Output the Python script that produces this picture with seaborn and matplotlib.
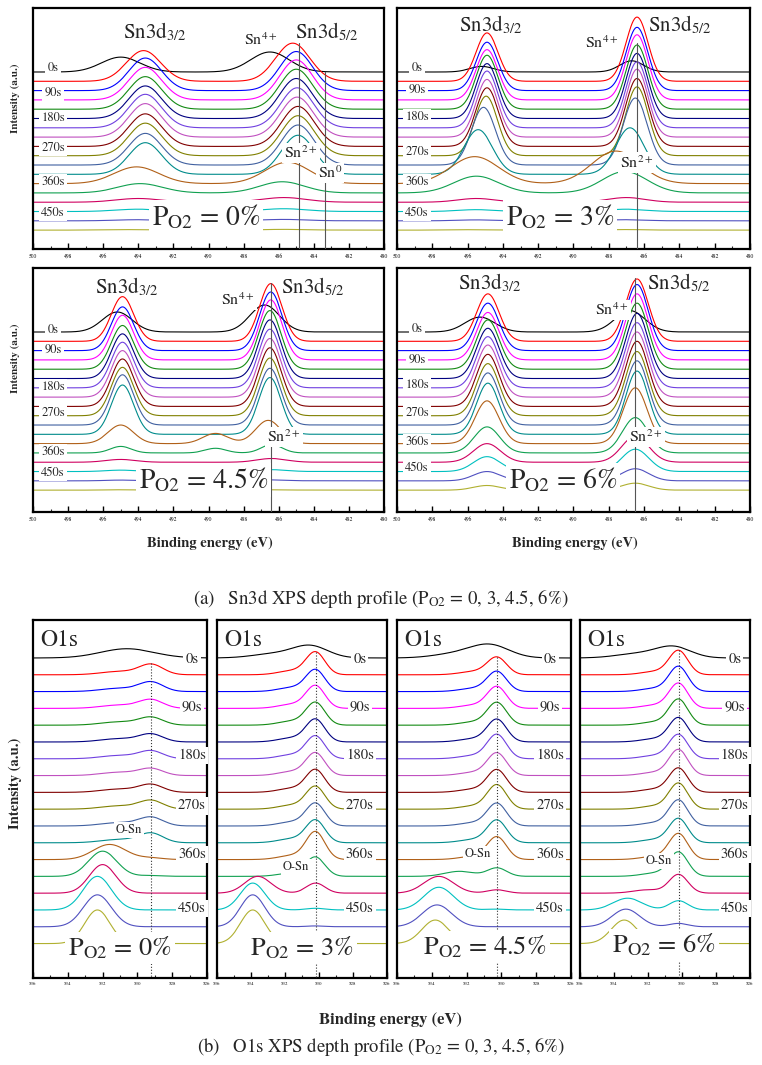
import numpy as np
import pandas as pd
import matplotlib
matplotlib.use('Agg')
import matplotlib.pyplot as plt
from matplotlib.ticker import MultipleLocator
import seaborn as sns

# ---------------- Dados ----------------
DEPTH_LABELS = ['0s', '90s', '180s', '270s', '360s', '450s']
CURVE_COLORS = ['#000000', '#ff0000', '#0000ff', '#ff00ff', '#138a13', '#000080',
                '#7040e0', '#c050c0', '#800000', '#808000', '#4060a0', '#008b8b',
                '#b06018', '#10a050', '#d00060', '#00c0c0', '#5050c0', '#b0b030']

# Sn3d, PO2 = 0%
SN0_POS32 = [495.0, 493.7, 493.6, 493.6, 493.6, 493.6, 493.6, 493.6, 493.6, 493.6, 493.6, 493.6, 494.1, 493.9, 494.0, 494.0, 494.0, 494.0]
SN0_H32 = [1.6, 3.3, 3.5, 3.5, 3.5, 3.5, 3.6, 3.6, 3.5, 3.5, 3.4, 3.4, 1.8, 1.0, 0.4, 0.25, 0.12, 0.06]
SN0_POS52 = [486.5, 485.2, 485.0, 485.0, 485.0, 485.0, 484.95, 484.95, 484.9, 484.9, 484.9, 484.9, 485.5, 485.8, 485.7, 485.7, 485.7, 485.7]
SN0_H52 = [2.15, 4.1, 4.2, 4.3, 4.3, 4.3, 4.3, 4.3, 4.3, 4.3, 4.3, 4.2, 2.3, 1.2, 0.5, 0.3, 0.15, 0.08]
SN0_FWHM = [2.6, 2.3, 2.2, 2.2, 2.2, 2.2, 2.2, 2.2, 2.2, 2.2, 2.2, 2.2, 3.0, 3.0, 3.0, 3.0, 3.0, 3.0]
SN0_SAT_POS = [490.0] * 18
SN0_SAT_H = [0.0] * 18

# Sn3d, PO2 = 3%
SN3_POS32 = [495.2, 494.9, 494.9, 494.9, 494.9, 494.9, 494.9, 494.9, 494.9, 494.95, 495.1, 495.4, 495.6, 495.5, 495.5, 495.5, 495.5, 495.5]
SN3_H32 = [0.6, 5.2, 5.2, 5.4, 5.8, 5.9, 6.1, 6.2, 6.3, 6.4, 6.2, 4.8, 2.9, 1.8, 0.4, 0.2, 0.1, 0.05]
SN3_POS52 = [486.7, 486.4, 486.4, 486.4, 486.4, 486.4, 486.4, 486.4, 486.4, 486.4, 486.5, 486.8, 487.6, 487.1, 487.0, 487.0, 487.0, 487.0]
SN3_H52 = [1.2, 6.9, 6.8, 7.0, 6.9, 7.0, 7.1, 7.3, 7.3, 7.4, 7.2, 5.0, 3.5, 2.3, 0.5, 0.25, 0.12, 0.06]
SN3_FWHM = [1.6, 1.45, 1.45, 1.45, 1.45, 1.45, 1.45, 1.45, 1.5, 1.5, 1.6, 1.9, 3.2, 3.0, 2.5, 2.5, 2.5, 2.5]
SN3_SAT_POS = [490.0] * 18
SN3_SAT_H = [0.0] * 18

# Sn3d, PO2 = 4.5%
SN45_POS32 = [495.2, 494.9, 494.9, 494.9, 494.9, 494.9, 494.9, 494.9, 494.9, 494.9, 494.9, 494.9, 495.0, 495.0, 495.0, 495.0, 495.0, 495.0]
SN45_H32 = [2.15, 4.8, 4.7, 4.8, 4.7, 4.8, 4.9, 5.0, 5.1, 5.2, 5.4, 5.3, 2.0, 0.7, 0.3, 0.15, 0.08, 0.04]
SN45_POS52 = [486.8, 486.45, 486.45, 486.45, 486.5, 486.5, 486.5, 486.5, 486.5, 486.5, 486.5, 486.5, 486.6, 486.4, 486.4, 486.4, 486.4, 486.4]
SN45_H52 = [2.9, 6.2, 6.3, 6.45, 6.3, 6.3, 6.3, 6.3, 6.3, 6.2, 6.1, 6.1, 2.5, 0.9, 0.4, 0.2, 0.1, 0.05]
SN45_FWHM = [2.0, 1.5, 1.5, 1.5, 1.5, 1.5, 1.5, 1.5, 1.5, 1.5, 1.5, 1.5, 1.7, 1.4, 2.0, 2.0, 2.0, 2.0]
SN45_SAT_POS = [489.6] * 18
SN45_SAT_H = [0, 0, 0, 0, 0, 0, 0, 0, 0, 0, 0, 0, 1.1, 0.5, 0, 0, 0, 0]

# Sn3d, PO2 = 6%
SN6_POS32 = [495.3, 494.85, 494.85, 494.85, 494.85, 494.85, 494.85, 494.85, 494.85, 494.85, 494.85, 494.85, 494.9, 494.9, 494.9, 494.9, 494.9, 494.9]
SN6_H32 = [1.6, 5.1, 5.1, 5.1, 5.3, 5.4, 5.5, 5.6, 5.6, 5.6, 5.6, 5.5, 4.6, 2.8, 2.0, 1.6, 1.0, 0.5]
SN6_POS52 = [486.8, 486.4, 486.4, 486.4, 486.4, 486.4, 486.4, 486.4, 486.4, 486.4, 486.4, 486.4, 486.5, 486.5, 486.5, 486.5, 486.5, 486.5]
SN6_H52 = [2.3, 6.7, 7.1, 7.1, 7.1, 7.0, 7.0, 7.0, 7.0, 6.9, 6.9, 6.8, 6.0, 3.8, 2.8, 2.4, 1.3, 0.75]
SN6_FWHM = [2.0, 1.5, 1.5, 1.5, 1.5, 1.5, 1.5, 1.5, 1.5, 1.5, 1.5, 1.5, 1.6, 1.7, 1.8, 1.8, 1.8, 1.8]
SN6_SAT_POS = [490.0] * 18
SN6_SAT_H = [0.0] * 18

# O1s: componente O-Sn (baixa energia) e componente de alta energia
O0_SN_POS = [530.6] + [529.2] * 17
O0_SN_H = [0.55, 0.6, 0.55, 0.5, 0.45, 0.45, 0.45, 0.4, 0.45, 0.5, 0.5, 0.55, 0.1, 0.05, 0, 0, 0, 0]
O0_SN_FWHM = [3.6] + [1.6] * 17
O0_HI_POS = [532.0, 531.0, 531.0, 531.0, 531.0, 531.0, 531.0, 531.0, 531.0, 531.0, 531.0, 531.0, 531.6, 532.0, 532.0, 532.3, 532.3, 532.3]
O0_HI_H = [0, 0.2, 0.2, 0.2, 0.2, 0.2, 0.2, 0.2, 0.2, 0.2, 0.2, 0.2, 0.9, 1.5, 1.7, 2.0, 1.9, 2.0]
O0_HI_FWHM = [2.5] * 12 + [2.2, 1.9, 1.8, 1.9, 1.9, 1.7]

O3_SN_POS = [530.5] + [530.2] * 17
O3_SN_H = [0.7, 1.3, 1.25, 1.3, 1.3, 1.3, 1.3, 1.3, 1.3, 1.3, 1.3, 1.3, 1.6, 1.1, 0.6, 0.1, 0.05, 0]
O3_SN_FWHM = [2.4] + [1.3] * 17
O3_HI_POS = [532.6, 531.5, 531.5, 531.5, 531.5, 531.5, 531.5, 531.5, 531.5, 531.5, 531.5, 531.5, 531.5, 531.5, 533.6, 533.9, 533.9, 533.9]
O3_HI_H = [0.25, 0.25, 0.25, 0.25, 0.25, 0.25, 0.25, 0.25, 0.25, 0.25, 0.25, 0.25, 0.25, 0.2, 1.0, 1.6, 1.9, 2.0]
O3_HI_FWHM = [3.0] + [2.0] * 13 + [1.8, 1.7, 1.7, 1.7]

O45_SN_POS = [530.65] + [530.25] * 17
O45_SN_H = [0.75, 1.0, 1.15, 1.25, 1.3, 1.3, 1.4, 1.3, 1.3, 1.4, 1.3, 1.3, 1.3, 0.5, 0.2, 0.05, 0, 0]
O45_SN_FWHM = [2.6] + [1.3] * 17
O45_HI_POS = [532.6] + [531.5] * 12 + [532.4, 533.6, 533.6, 533.7, 533.8]
O45_HI_H = [0.25] + [0.2] * 12 + [0.3, 1.0, 1.35, 1.3, 1.4]
O45_HI_FWHM = [3.0] + [2.0] * 12 + [2.0, 2.0, 2.0, 2.0, 1.8]

O6_SN_POS = [530.5] + [530.2] * 17
O6_SN_H = [0.65, 1.4, 1.45, 1.45, 1.5, 1.4, 1.4, 1.5, 1.4, 1.5, 1.5, 1.4, 1.5, 1.4, 1.1, 0.55, 0.2, 0.05]
O6_SN_FWHM = [2.4] + [1.3] * 17
O6_HI_POS = [532.6] + [531.5] * 13 + [532.0, 533.2, 533.3, 533.4]
O6_HI_H = [0.25] + [0.2] * 13 + [0.2, 0.7, 1.05, 1.4]
O6_HI_FWHM = [3.0] + [2.0] * 13 + [2.0, 2.0, 1.9, 1.8]

# ---------------- Estilo ----------------
sns.set_theme(style='white')
plt.rcParams['font.family'] = ['STIXGeneral', 'DejaVu Serif']
plt.rcParams['mathtext.fontset'] = 'stix'

BOX = dict(facecolor='white', edgecolor='none', pad=1.5)


def gauss(e, pos, h, fwhm):
    return h * np.exp(-4 * np.log(2) * (e - pos) ** 2 / fwhm ** 2)


def montar_frame(energia, componentes):
    linhas = []
    for i in range(18):
        y = -float(i) * np.ones_like(energia)
        for pos, h, fw in componentes:
            y = y + gauss(energia, pos[i], h[i], fw[i])
        linhas.append(pd.DataFrame({'energia': energia, 'intensidade': y, 'curva': f'c{i:02d}'}))
    return pd.concat(linhas, ignore_index=True)


PALETA = {f'c{i:02d}': c for i, c in enumerate(CURVE_COLORS)}
ORDEM = [f'c{i:02d}' for i in range(18)]


def eixo(fig, px):
    x0, y0, x1, y1 = px
    return fig.add_axes([x0 / 762, 1 - y1 / 1065, (x1 - x0) / 762, (y1 - y0) / 1065])


def estilo_eixo(ax, xlim, ylim, labelsize):
    ax.set_xlim(*xlim)
    ax.set_ylim(*ylim)
    ax.set_yticks([])
    ax.set_xlabel('')
    ax.set_ylabel('')
    lo, hi = min(xlim), max(xlim)
    ax.set_xticks(np.arange(lo, hi + 1, 2))
    ax.xaxis.set_minor_locator(MultipleLocator(1))
    ax.tick_params(axis='x', which='major', direction='in', length=4, width=1,
                   labelsize=labelsize, pad=3, bottom=True, colors='black')
    ax.tick_params(axis='x', which='minor', direction='in', length=2, width=0.8, bottom=True)
    for s in ax.spines.values():
        s.set_linewidth(1.6)
        s.set_color('black')


fig = plt.figure(figsize=(7.62, 10.65), dpi=100)

# ---------------- Sn3d ----------------
E_SN = np.linspace(480, 500, 600)
sn_paineis = [
    dict(px=(33, 8, 384, 249),
         comp=[(SN0_POS32, SN0_H32, SN0_FWHM), (SN0_POS52, SN0_H52, SN0_FWHM), (SN0_SAT_POS, SN0_SAT_H, SN0_FWHM)],
         t32=(493.05, 4.3), t52=(483.25, 4.3), t4=(487.0, 3.44), t2=(484.73, -8.7),
         p=(490.14, -15.6), ptxt='0%', lines=[(484.84, 3.1), (483.36, 0.0)],
         dy=[0.43, -2.26, -4.95, -8.17, -11.8, -15.2]),
    dict(px=(397, 8, 750, 249),
         comp=[(SN3_POS32, SN3_H32, SN3_FWHM), (SN3_POS52, SN3_H52, SN3_FWHM), (SN3_SAT_POS, SN3_SAT_H, SN3_FWHM)],
         t32=(494.67, 5.05), t52=(484.0, 5.05), t4=(488.4, 3.2), t2=(486.4, -9.7),
         p=(490.76, -15.6), ptxt='3%', lines=[(486.4, 3.1)],
         dy=[0.43, -1.9, -4.84, -8.6, -11.8, -15.2]),
    dict(px=(33, 268, 384, 512),
         comp=[(SN45_POS32, SN45_H32, SN45_FWHM), (SN45_POS52, SN45_H52, SN45_FWHM), (SN45_SAT_POS, SN45_SAT_H, SN45_FWHM)],
         t32=(494.64, 4.84), t52=(484.05, 4.84), t4=(488.32, 3.44), t2=(485.7, -11.3),
         p=(490.26, -15.9), ptxt='4.5%', lines=[(486.44, 5.27)],
         dy=[0.2, -1.9, -5.9, -8.7, -12.9, -15.2]),
    dict(px=(397, 268, 750, 512),
         comp=[(SN6_POS32, SN6_H32, SN6_FWHM), (SN6_POS52, SN6_H52, SN6_FWHM), (SN6_SAT_POS, SN6_SAT_H, SN6_FWHM)],
         t32=(494.73, 5.27), t52=(484.02, 5.27), t4=(487.82, 2.37), t2=(485.9, -11.3),
         p=(490.6, -15.9), ptxt='6%', lines=[(486.5, 5.8)],
         dy=[0.3, -3.0, -5.7, -8.7, -11.8, -14.6]),
]

for k, pn in enumerate(sn_paineis):
    ax = eixo(fig, pn['px'])
    df = montar_frame(E_SN, pn['comp'])
    sns.lineplot(data=df, x='energia', y='intensidade', hue='curva', hue_order=ORDEM,
                 palette=PALETA, estimator=None, legend=False, linewidth=0.8, ax=ax)
    ylim = (-19.03, 6.88) if k < 2 else (-19.35, 6.88)
    estilo_eixo(ax, (500, 480), ylim, 4)
    for xl, ytop in pn['lines']:
        ax.plot([xl, xl], [ytop, ylim[0]], color='#555555', lw=0.8, zorder=3)
    ax.text(*pn['t32'], 'Sn3d$_{3/2}$', fontsize=15, ha='center', va='center', zorder=6)
    ax.text(*pn['t52'], 'Sn3d$_{5/2}$', fontsize=15, ha='center', va='center', zorder=6)
    ax.text(*pn['t4'], 'Sn$^{4+}$', fontsize=11.5, ha='center', va='center', zorder=6, bbox=BOX)
    ax.text(*pn['t2'], 'Sn$^{2+}$', fontsize=11.5, ha='center', va='center', zorder=6, bbox=BOX)
    if k == 0:
        ax.text(483.08, -10.86, 'Sn$^{0}$', fontsize=11.5, ha='center', va='center', zorder=6, bbox=BOX)
    ax.text(*pn['p'], 'P$_{\\mathrm{O2}}$ = ' + pn['ptxt'], fontsize=20, ha='center', va='center',
            zorder=6, bbox=dict(facecolor='white', edgecolor='none', pad=2))
    for lab, yy in zip(DEPTH_LABELS, pn['dy']):
        ax.text(498.86, yy, lab, fontsize=9, ha='center', va='center', zorder=6, bbox=BOX)

# ---------------- O1s ----------------
E_O = np.linspace(526, 536, 500)
o_paineis = [
    dict(px=(33, 620, 207, 978),
         comp=[(O0_SN_POS, O0_SN_H, O0_SN_FWHM), (O0_HI_POS, O0_HI_H, O0_HI_FWHM)],
         dx=526.86, osn=(530.48, -10.24), p=(531.0, -17.26), ptxt='0%', line=(529.2, -0.3)),
    dict(px=(217, 620, 387, 978),
         comp=[(O3_SN_POS, O3_SN_H, O3_SN_FWHM), (O3_HI_POS, O3_HI_H, O3_HI_FWHM)],
         dx=527.6, osn=(531.35, -12.44), p=(531.0, -17.26), ptxt='3%', line=(530.2, 0.36)),
    dict(px=(397, 620, 571, 978),
         comp=[(O45_SN_POS, O45_SN_H, O45_SN_FWHM), (O45_HI_POS, O45_HI_H, O45_HI_FWHM)],
         dx=527.2, osn=(531.34, -11.67), p=(530.94, -17.2), ptxt='4.5%', line=(530.25, 0.06)),
    dict(px=(580, 620, 750, 978),
         comp=[(O6_SN_POS, O6_SN_H, O6_SN_FWHM), (O6_HI_POS, O6_HI_H, O6_HI_FWHM)],
         dx=526.9, osn=(531.35, -12.08), p=(531.06, -17.08), ptxt='6%', line=(530.2, 0.48)),
]
O_DEPTH_Y = [-0.1, -2.9, -5.8, -8.8, -11.7, -14.9]

for pn in o_paineis:
    ax = eixo(fig, pn['px'])
    df = montar_frame(E_O, pn['comp'])
    sns.lineplot(data=df, x='energia', y='intensidade', hue='curva', hue_order=ORDEM,
                 palette=PALETA, estimator=None, legend=False, linewidth=0.8, ax=ax)
    ylim = (-19.05, 2.26)
    estilo_eixo(ax, (536, 526), ylim, 3.5)
    xl, ytop = pn['line']
    ax.plot([xl, xl], [ytop, ylim[0]], color='#333333', lw=0.8, ls=':', zorder=3)
    ax.text(0.04, 0.944, 'O1s', transform=ax.transAxes, fontsize=17, ha='left', va='center', zorder=6)
    for lab, yy in zip(DEPTH_LABELS, O_DEPTH_Y):
        ax.text(pn['dx'], yy, lab, fontsize=10.5, ha='center', va='center', zorder=6, bbox=BOX)
    ax.text(*pn['osn'], 'O-Sn', fontsize=9, ha='center', va='center', zorder=6, bbox=BOX)
    ax.text(*pn['p'], 'P$_{\\mathrm{O2}}$ = ' + pn['ptxt'], fontsize=19, ha='center', va='center',
            zorder=6, bbox=dict(facecolor='white', edgecolor='none', pad=2))

# ---------------- Rótulos gerais ----------------
fig.text(15 / 762, 1 - 98 / 1065, 'Intensity (a.u.)', rotation=90, fontsize=8, fontweight='bold',
         ha='center', va='center')
fig.text(15 / 762, 1 - 358 / 1065, 'Intensity (a.u.)', rotation=90, fontsize=8, fontweight='bold',
         ha='center', va='center')
fig.text(15 / 762, 1 - 783 / 1065, 'Intensity (a.u.)', rotation=90, fontsize=10.5, fontweight='bold',
         ha='center', va='center')

fig.text(210 / 762, 1 - 543 / 1065, 'Binding energy (eV)', fontsize=10.5, fontweight='bold', ha='center', va='center')
fig.text(575 / 762, 1 - 543 / 1065, 'Binding energy (eV)', fontsize=10.5, fontweight='bold', ha='center', va='center')
fig.text(390 / 762, 1 - 1020 / 1065, 'Binding energy (eV)', fontsize=12, fontweight='bold', ha='center', va='center')

fig.text(381 / 762, 1 - 598 / 1065, '(a)   Sn3d XPS depth profile (P$_{\\mathrm{O2}}$ = 0, 3, 4.5, 6%)',
         fontsize=13.5, ha='center', va='center')
fig.text(381 / 762, 1 - 1047 / 1065, '(b)   O1s XPS depth profile (P$_{\\mathrm{O2}}$ = 0, 3, 4.5, 6%)',
         fontsize=13.5, ha='center', va='center')

plt.savefig('out.png', dpi=100)
